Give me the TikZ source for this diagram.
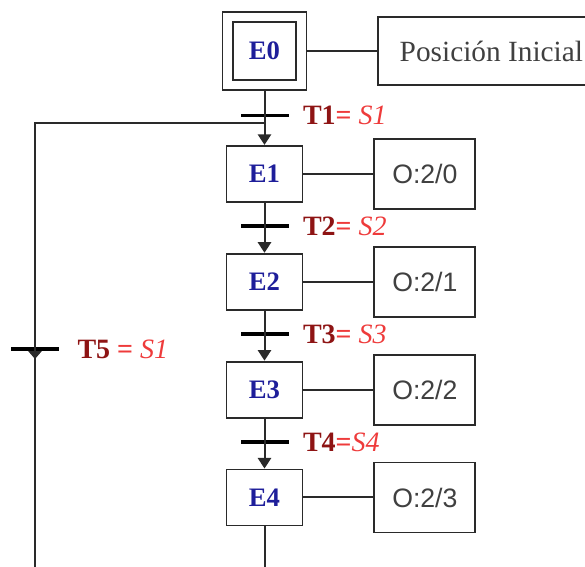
\documentclass[tikz,border=0pt]{standalone}
\usepackage{fontspec}
\setmainfont{Liberation Serif}
\newfontfamily\outfont{Liberation Sans}
\usetikzlibrary{arrows.meta,positioning}
\definecolor{stepblue}{HTML}{1E1E9A}
\definecolor{transred}{HTML}{8E1414}
\definecolor{condred}{HTML}{EE3B3B}
\definecolor{linegray}{HTML}{2A2A2A}
\newcommand{\trans}[3]{\textcolor{transred}{\textbf{#1}}\textcolor{condred}{\textbf{#2}\textit{#3}}}

\begin{document}
\begin{tikzpicture}[x=0.75pt, y=-0.75pt,
  node distance=37.5pt and 52.5pt,
  stepbox/.style={draw=linegray, line width=1.4pt, minimum width=57pt, minimum height=42pt, inner sep=0pt, font=\fontsize{20}{20}\selectfont\bfseries, text=stepblue},
  outbox/.style={draw=linegray, line width=1.4pt, minimum width=75.75pt, minimum height=52.5pt, inner sep=0pt, font=\outfont\fontsize{20}{20}\selectfont, text=black!75},
  bar/.style={fill=black, minimum width=36pt, minimum height=2.6pt, inner sep=0pt},
  tlabel/.style={inner sep=0pt, font=\fontsize{21}{21}\selectfont},
  link/.style={draw=linegray, line width=1.5pt},
  arr/.style={link, -{Triangle[width=10pt,length=8pt]}}]
\useasboundingbox (0,0) rectangle (585,567);
% initial step (double frame) and its action
\node[stepbox, minimum width=47.25pt, minimum height=43.5pt] (e0) at (264.5,51) {E0};
\node[stepbox, minimum width=63pt, minimum height=58.5pt] (e0out) at (e0) {};
\node[outbox, right=of e0out, minimum width=169.5pt, minimum height=51pt, font=\fontsize{22}{22}\selectfont] (pos) {Posición Inicial};
% steps
\node[stepbox, below=40.5pt of e0out] (e1) {E1};
\node[stepbox, below=of e1] (e2) {E2};
\node[stepbox, below=of e2] (e3) {E3};
\node[stepbox, below=of e3] (e4) {E4};
% outputs
\node[outbox, right=of e1] (o0) {O:2/0};
\node[outbox, right=of e2] (o1) {O:2/1};
\node[outbox, right=of e3] (o2) {O:2/2};
\node[outbox, right=of e4] (o3) {O:2/3};
% transitions
\node[bar, below=17pt of e0out] (t1) {};
\node[bar, below=16pt of e1] (t2) {};
\node[bar, below=16pt of e2] (t3) {};
\node[bar, below=16pt of e3] (t4) {};
\node[bar] (t5) at (35,349) {};
\node[tlabel, right=10.5pt of t1] (t1l) {\trans{T1}{= }{S1}};
\node[tlabel, right=10.5pt of t2] (t2l) {\trans{T2}{= }{S2}};
\node[tlabel, right=10.5pt of t3] (t3l) {\trans{T3}{= }{S3}};
\node[tlabel, right=10.5pt of t4] (t4l) {\trans{T4}{=}{S4}};
\node[tlabel, right=13.5pt of t5] (t5l) {\trans{T5}{ = }{S1}};
% loop back
\coordinate (ltop) at (35,123);
\coordinate (lbot) at (35,567);
\coordinate (t5tip) at (35,359);
\coordinate (mbot) at (e4 |- lbot);
\draw[link] (e0out) -- (pos);
\draw[link] (e1) -- (o0);
\draw[link] (e2) -- (o1);
\draw[link] (e3) -- (o2);
\draw[link] (e4) -- (o3);
\draw[arr] (e0out) -- (e1);
\draw[arr] (e1) -- (e2);
\draw[arr] (e2) -- (e3);
\draw[arr] (e3) -- (e4);
\draw[link] (e4) -- (mbot);
\draw[link] (lbot) -- (ltop) -- (ltop -| e1);
\draw[link, -{Triangle[width=10pt,length=6pt]}] (t5) -- (t5tip);
\end{tikzpicture}
\end{document}
